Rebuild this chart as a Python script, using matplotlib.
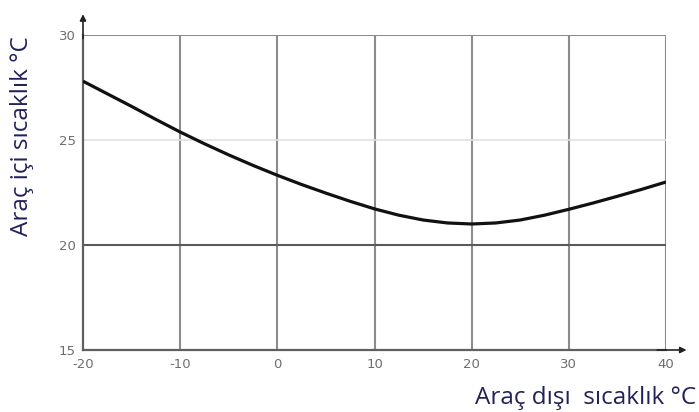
import matplotlib
matplotlib.use("Agg")
import matplotlib.pyplot as plt

outside_temp = [-20, -17.5, -15, -12.5, -10, -7.5, -5, -2.5, 0, 2.5, 5, 7.5, 10,
                12.5, 15, 17.5, 20, 22.5, 25, 27.5, 30, 32.5, 35, 37.5, 40]
inside_temp = [27.80, 27.20, 26.60, 25.98, 25.38, 24.82, 24.29, 23.79, 23.32, 22.88, 22.47, 22.08, 21.72,
               21.42, 21.19, 21.05, 21.00, 21.05, 21.19, 21.42, 21.70, 22.00, 22.32, 22.65, 23.00]
x_ticks = [-20, -10, 0, 10, 20, 30, 40]
y_ticks = [15, 20, 25, 30]
x_label = "Araç dışı  sıcaklık °C"
y_label = "Araç içi sıcaklık °C"

fig = plt.figure(figsize=(6.99, 4.12), dpi=100)
ax = fig.add_axes([83/699, 1-350/412, (666-83)/699, (350-35)/412])
ax.set_xlim(-20, 40)
ax.set_ylim(15, 30)

grid_col = "#8c8c8c"
for xv in x_ticks[1:]:
    ax.axvline(xv, color=grid_col, lw=1.5, zorder=1)
ax.axhline(30, color="#8c8c8c", lw=1.5, zorder=1)
ax.axhline(25, color="#e0e0e0", lw=1.2, zorder=1)
ax.axhline(20, color="#5a5a5a", lw=1.5, zorder=1)

for s in ["top", "right"]:
    ax.spines[s].set_visible(False)
for s in ["left", "bottom"]:
    ax.spines[s].set_color("#606060")
    ax.spines[s].set_linewidth(1.6)

ax.plot(outside_temp, inside_temp, color="#111111", lw=2.3, zorder=3,
        solid_capstyle="butt", solid_joinstyle="round")

# arrows
ax.annotate("", xy=(0, 1.075), xycoords="axes fraction", xytext=(0, 0.98),
            arrowprops=dict(arrowstyle="-|>", color="#222222", lw=1.2, mutation_scale=9), annotation_clip=False)
ax.annotate("", xy=(1.04, 0), xycoords="axes fraction", xytext=(0.98, 0),
            arrowprops=dict(arrowstyle="-|>", color="#222222", lw=1.2, mutation_scale=9), annotation_clip=False)

tick_font = ["Liberation Sans Narrow", "DejaVu Sans"]
ax.set_xticks(x_ticks)
ax.set_xticklabels([str(v) for v in x_ticks], family=tick_font, fontsize=9.5, color="#6e6e6e")
ax.set_yticks(y_ticks)
ax.set_yticklabels([str(v) for v in y_ticks], family=tick_font, fontsize=9.5, color="#6e6e6e")
ax.tick_params(axis="x", length=0, pad=6)
ax.tick_params(axis="y", length=0, pad=5)

fig.text(22/699, 1-136/412, y_label, rotation=90, ha="center", va="center",
         fontsize=17.5, color="#22225a", family=["Open Sans", "DejaVu Sans"])
fig.text(696/699, 1-404/412, x_label, ha="right", va="baseline",
         fontsize=17.5, color="#22225a", family=["Open Sans", "DejaVu Sans"])

fig.savefig("out.png", dpi=100)
